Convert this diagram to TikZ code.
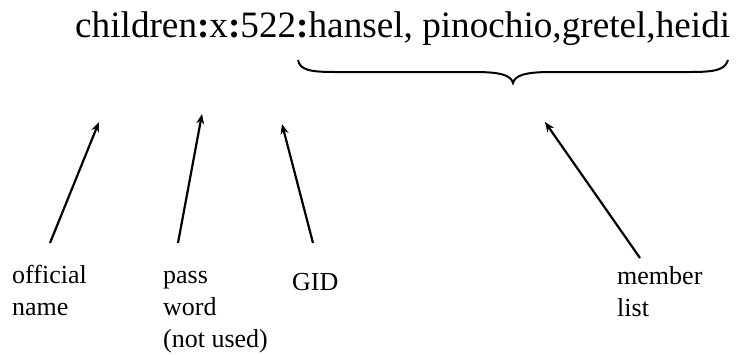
\documentclass[tikz,border=0pt]{standalone}
\usepackage{fontspec}
\setmainfont{Liberation Serif}
\usetikzlibrary{arrows.meta}
\newcommand{\lines}[1]{\vtop{\halign{##\hfil\cr#1\crcr}}}
\begin{document}
\begin{tikzpicture}[x=1pt,y=-1pt,
  lbl/.style={anchor=base west,inner sep=0pt,font=\fontsize{26}{32}\selectfont},
  arr/.style={line width=2.2pt,-{Stealth[length=10pt,width=8pt]}},
  bracepath/.style={line width=2pt}]
\useasboundingbox (0,0) rectangle (736,354);
\node[anchor=base west,inner sep=0pt,font=\fontsize{37.2}{40}\selectfont] (title) at (75,37)
  {children\textbf{:}x\textbf{:}522\textbf{:}hansel, pinochio,gretel,heidi};
\draw[bracepath] (298,60) .. controls (300,70) and (310,72) .. (335,72) -- (475,72)
  .. controls (503,72) and (511,76) .. (513,83)
  .. controls (515,76) and (523,72) .. (551,72) -- (690,72)
  .. controls (715,72) and (725,70) .. (728,60);
\node[lbl] (official) at (12,283) {\lines{official\cr name}};
\node[lbl] (pass) at (163,283) {\lines{pass\cr word\cr (not used)}};
\node[lbl] (gid) at (292,290) {GID};
\node[lbl] (member) at (617,284) {\lines{member\cr list}};
\coordinate (t1) at (50,243);  \coordinate (h1) at (99,122);
\coordinate (t2) at (178,243); \coordinate (h2) at (202,114);
\coordinate (t3) at (313,243); \coordinate (h3) at (282,124);
\coordinate (t4) at (640,258); \coordinate (h4) at (545,122);
\draw[arr] (t1) -- (h1);
\draw[arr] (t2) -- (h2);
\draw[arr] (t3) -- (h3);
\draw[arr] (t4) -- (h4);
\end{tikzpicture}
\end{document}
